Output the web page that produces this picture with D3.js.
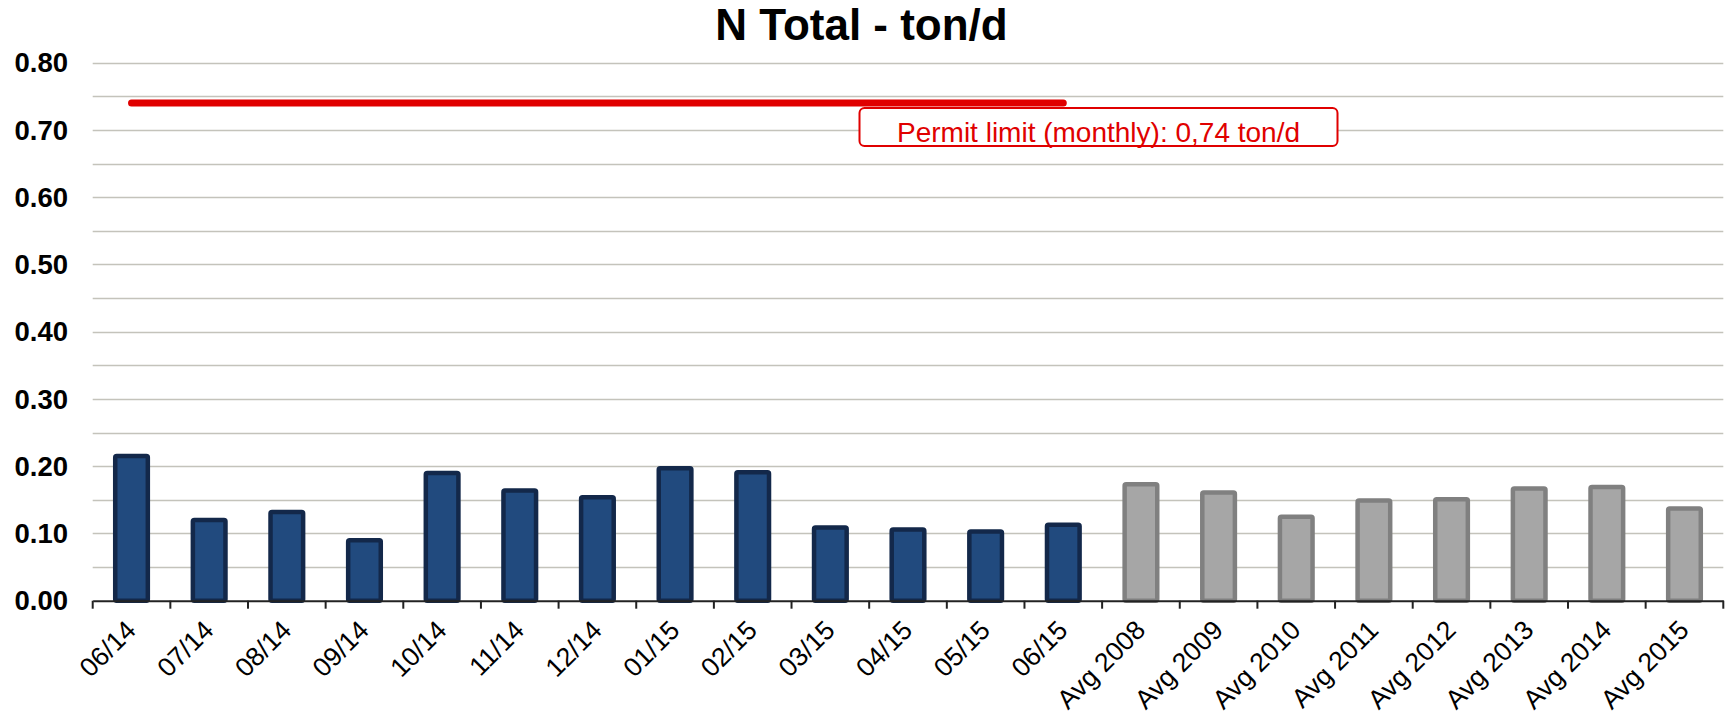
<!DOCTYPE html>
<html>
<head>
<meta charset="utf-8">
<script src="https://cdn.jsdelivr.net/npm/d3@7"></script>
<style>
  body { margin: 0; background: #fff; }
  svg { display: block; font-family: "Liberation Sans", Arial, sans-serif; }
</style>
</head>
<body>
<svg id="chart"></svg>
<script>
// monthly values (ton/d)
const months = ['06/14', '07/14', '08/14', '09/14', '10/14', '11/14', '12/14',
    '01/15', '02/15', '03/15', '04/15', '05/15', '06/15'];
const monthValues = [0.215, 0.120, 0.132, 0.090, 0.190, 0.164, 0.154,
    0.197, 0.191, 0.109, 0.106, 0.103, 0.113];

// yearly averages
const avgLabels = ['Avg 2008', 'Avg 2009', 'Avg 2010', 'Avg 2011',
    'Avg 2012', 'Avg 2013', 'Avg 2014', 'Avg 2015'];
const avgValues = [0.173, 0.161, 0.125, 0.149, 0.151, 0.167, 0.169, 0.137];

const yTicks = [0, 0.1, 0.2, 0.3, 0.4, 0.5, 0.6, 0.7, 0.8];
const permitLimit = 0.74;
const permitText = 'Permit limit (monthly): 0,74 ton/d';
const title = 'N Total - ton/d';

const width = 1733, height = 723;
const margin = {left: 92.7, right: 9.7, top: 62.7, bottom: 122.3};

const svg = d3.select('#chart')
    .attr('width', width)
    .attr('height', height);

const data = months.map((m, i) => ({label: m, value: monthValues[i], avg: false}))
    .concat(avgLabels.map((m, i) => ({label: m, value: avgValues[i], avg: true})));

const x = d3.scaleBand()
    .domain(data.map(d => d.label))
    .range([margin.left, width - margin.right])
    .padding(0);

const y = d3.scaleLinear()
    .domain([0, 0.8])
    .range([height - margin.bottom, margin.top]);

// gridlines every 0.05
const gridVals = d3.range(1, 17).map(i => i * 0.05);
svg.append('g')
    .selectAll('line')
    .data(gridVals)
    .join('line')
    .attr('x1', margin.left)
    .attr('x2', width - margin.right)
    .attr('y1', d => Math.round(y(d)) + 0.5)
    .attr('y2', d => Math.round(y(d)) + 0.5)
    .attr('stroke', '#c4c3bb')
    .attr('stroke-width', 1.5);

// y labels
svg.append('g')
    .selectAll('text')
    .data(yTicks)
    .join('text')
    .attr('x', 68)
    .attr('y', d => y(d))
    .attr('dy', '0.35em')
    .attr('text-anchor', 'end')
    .attr('font-size', 27.5)
    .attr('font-weight', 'bold')
    .attr('fill', '#000')
    .text(d => d3.format('.2f')(d));

// bars
const barW = x.bandwidth() * 0.42;
svg.append('g')
    .selectAll('rect')
    .data(data)
    .join('rect')
    .attr('x', d => x(d.label) + (x.bandwidth() - barW) / 2)
    .attr('y', d => y(d.value))
    .attr('width', barW)
    .attr('height', d => y(0) - y(d.value))
    .attr('rx', 1.5)
    .attr('fill', d => d.avg ? '#a6a6a6' : '#214a7e')
    .attr('stroke', d => d.avg ? '#808080' : '#13284a')
    .attr('stroke-width', 4.5);

// x axis
const xAxis = svg.append('g')
    .attr('transform', `translate(0,${y(0)})`)
    .call(d3.axisBottom(x).tickSize(0).tickFormat(''));
xAxis.select('.domain').attr('stroke', '#222').attr('stroke-width', 2);
svg.append('g')
    .selectAll('line')
    .data(d3.range(data.length + 1))
    .join('line')
    .attr('x1', i => margin.left + i * x.step())
    .attr('x2', i => margin.left + i * x.step())
    .attr('y1', y(0))
    .attr('y2', y(0) + 8)
    .attr('stroke', '#222')
    .attr('stroke-width', 2);

svg.append('g')
    .selectAll('text')
    .data(data)
    .join('text')
    .attr('transform', d => `translate(${x(d.label) + x.bandwidth() / 2 + 6},${y(0) + 31}) rotate(-45)`)
    .attr('text-anchor', 'end')
    .attr('font-size', 26.5)
    .attr('fill', '#000')
    .text(d => d.label);

// permit limit line across monthly bars
svg.append('line')
    .attr('x1', x(months[0]) + x.bandwidth() / 2)
    .attr('x2', x(months[months.length - 1]) + x.bandwidth() / 2)
    .attr('y1', y(permitLimit))
    .attr('y2', y(permitLimit))
    .attr('stroke', '#e00000')
    .attr('stroke-width', 7)
    .attr('stroke-linecap', 'round');

// permit label box
const box = svg.append('g');
box.append('rect')
    .attr('x', 859.5)
    .attr('y', 108)
    .attr('width', 478)
    .attr('height', 38)
    .attr('rx', 5)
    .attr('fill', '#fff')
    .attr('stroke', '#e00000')
    .attr('stroke-width', 2);
box.append('text')
    .attr('x', 1098.5)
    .attr('y', 141.5)
    .attr('text-anchor', 'middle')
    .attr('font-size', 28)
    .attr('fill', '#e00000')
    .text(permitText);

// title
svg.append('text')
    .attr('x', 861.5)
    .attr('y', 40)
    .attr('text-anchor', 'middle')
    .attr('font-size', 44)
    .attr('font-weight', 'bold')
    .attr('fill', '#000')
    .text(title);
</script>
</body>
</html>
